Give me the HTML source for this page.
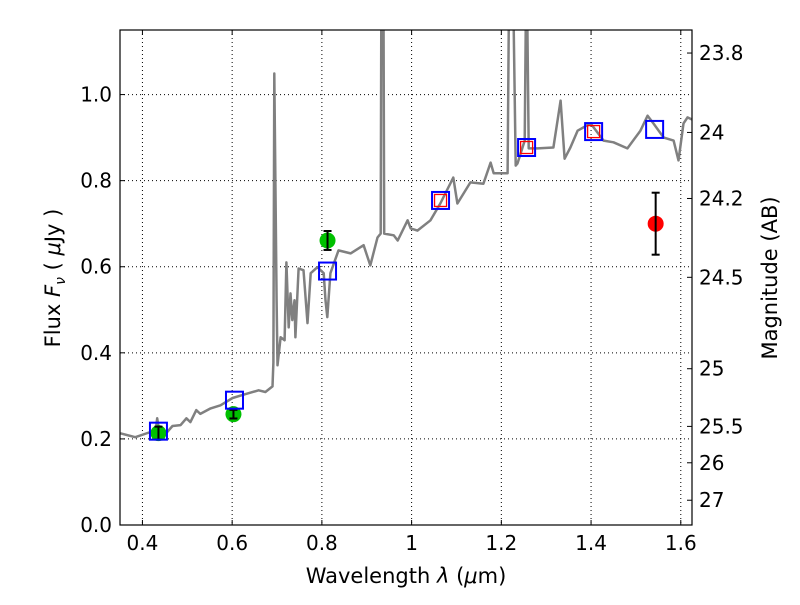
<!DOCTYPE html>
<html><head><meta charset="utf-8"><style>
body{margin:0;background:#fff}
svg{font-family:"DejaVu Sans","Liberation Sans",sans-serif}
</style></head><body>
<svg id="c" width="800" height="600" viewBox="0 0 800 600"></svg>
<script>
const specWave=[0.351,0.384,0.418,0.429,0.433,0.438,0.451,0.467,0.485,0.498,0.507,0.520,0.529,0.552,0.574,0.601,0.630,0.659,0.674,0.690,0.692,0.694,0.699,0.701,0.708,0.717,0.721,0.726,0.730,0.734,0.739,0.741,0.748,0.759,0.768,0.775,0.790,0.804,0.808,0.812,0.819,0.837,0.864,0.893,0.908,0.924,0.931,0.933,0.937,0.939,0.960,0.969,0.991,0.998,1.013,1.042,1.064,1.093,1.102,1.131,1.160,1.176,1.183,1.214,1.218,1.225,1.232,1.236,1.252,1.256,1.261,1.281,1.316,1.332,1.341,1.354,1.370,1.399,1.428,1.450,1.481,1.510,1.526,1.539,1.562,1.584,1.595,1.606,1.615,1.629];
const specFlux=[0.213,0.204,0.216,0.213,0.248,0.213,0.211,0.230,0.232,0.248,0.239,0.267,0.258,0.271,0.278,0.295,0.304,0.313,0.309,0.322,0.378,1.049,0.522,0.371,0.436,0.429,0.610,0.459,0.538,0.476,0.522,0.436,0.596,0.592,0.469,0.585,0.599,0.585,0.522,0.483,0.585,0.638,0.631,0.650,0.603,0.668,0.677,1.35,1.35,0.677,0.673,0.661,0.708,0.689,0.684,0.708,0.747,0.807,0.747,0.796,0.793,0.842,0.817,0.817,1.35,1.35,0.835,0.840,0.893,1.35,0.875,0.875,0.877,0.986,0.851,0.877,0.916,0.933,0.893,0.889,0.875,0.916,0.951,0.933,0.900,0.893,0.847,0.933,0.947,0.940];
const modelWave=[0.4357,0.6052,0.8126,1.0645,1.2563,1.4057,1.5417];
const modelFlux=[0.218,0.290,0.590,0.754,0.877,0.914,0.919];
const redSqWave=[1.0645,1.2563,1.4057];
const redSqFlux=[0.754,0.877,0.914];
const obsWave=[0.4357,0.6029,0.8126];
const obsFlux=[0.2135,0.2575,0.661];
const obsErr=[0.015,0.010,0.022];
const redWave=[1.544];
const redFlux=[0.70];
const redErr=[0.072];
const xTicks=[0.4,0.6,0.8,1.0,1.2,1.4,1.6];
const xTickLabels=["0.4","0.6","0.8","1","1.2","1.4","1.6"];
const yTicks=[0,0.2,0.4,0.6,0.8,1.0];
const yTickLabels=["0.0","0.2","0.4","0.6","0.8","1.0"];
const magTicks=[23.8,24,24.2,24.5,25,25.5,26,27];
const magTickLabels=["23.8","24","24.2","24.5","25","25.5","26","27"];

const L=120,R=692,T=30,B=525,x0=0.35,x1=1.625,y0=0,y1=1.15;
const X=v=>L+(v-x0)/(x1-x0)*(R-L);
const Y=v=>B-(v-y0)/(y1-y0)*(B-T);
const svg=document.getElementById('c');
const NS='http://www.w3.org/2000/svg';
function mk(tag,at,parent){const e=document.createElementNS(NS,tag);for(const k in at)e.setAttribute(k,at[k]);(parent||svg).appendChild(e);return e;}
const defs=mk('defs',{});
const cp=mk('clipPath',{id:'clip'},defs);mk('rect',{x:L,y:T,width:R-L,height:B-T},cp);

xTicks.forEach(t=>{const g=mk('line',{x1:X(t),x2:X(t),y1:T,y2:B,stroke:'#000','stroke-width':1,'stroke-dasharray':'1,3'});

});
yTicks.forEach(t=>{const g=mk('line',{x1:L,x2:R,y1:Y(t),y2:Y(t),stroke:'#000','stroke-width':1,'stroke-dasharray':'1,3'});

});

const plot=mk('g',{'clip-path':'url(#clip)'});


let d='';specWave.forEach((w,i)=>{d+=(i?'L':'M')+X(w).toFixed(1)+','+Y(specFlux[i]).toFixed(1);});
const sp=mk('path',{d:d,fill:'none',stroke:'#808080','stroke-width':2.5,'stroke-linejoin':'round'},plot);



function errPt(w,f,e,color,name){
  const g=mk('g',{},plot);
  
  
  const cx=X(w);
  mk('circle',{cx:cx,cy:Y(f),r:8,fill:color},g);
  mk('line',{x1:cx,x2:cx,y1:Y(f-e),y2:Y(f+e),stroke:'#000','stroke-width':2},g);
  mk('line',{x1:cx-4,x2:cx+4,y1:Y(f-e),y2:Y(f-e),stroke:'#000','stroke-width':2},g);
  mk('line',{x1:cx-4,x2:cx+4,y1:Y(f+e),y2:Y(f+e),stroke:'#000','stroke-width':2},g);
}
obsWave.forEach((w,i)=>errPt(w,obsFlux[i],obsErr[i],'#00c000','observed-point'));
redWave.forEach((w,i)=>errPt(w,redFlux[i],redErr[i],'#ff0000','red-observed-point'));
redSqWave.forEach((w,i)=>{const r=mk('rect',{x:X(w)-6,y:Y(redSqFlux[i])-6,width:12,height:12,fill:'none',stroke:'#ff0000','stroke-width':1.3},plot);

});
modelWave.forEach((w,i)=>{const r=mk('rect',{x:X(w)-8.5,y:Y(modelFlux[i])-8.5,width:17,height:17,fill:'none',stroke:'#0000ff','stroke-width':2},plot);

});

const fr=mk('rect',{x:L,y:T,width:R-L,height:B-T,fill:'none',stroke:'#000','stroke-width':1.2});



xTicks.forEach((t,i)=>{
  mk('line',{x1:X(t),x2:X(t),y1:B,y2:B-5,stroke:'#000'});mk('line',{x1:X(t),x2:X(t),y1:T,y2:T+5,stroke:'#000'});
  const tx=mk('text',{x:X(t),y:B+25,'font-size':20,'text-anchor':'middle'});tx.textContent=xTickLabels[i];
  
  
});
yTicks.forEach((t,i)=>{
  mk('line',{x1:L,x2:L+5,y1:Y(t),y2:Y(t),stroke:'#000'});
  const tx=mk('text',{x:L-8,y:Y(t)+7,'font-size':20,'text-anchor':'end'});tx.textContent=yTickLabels[i];
  
  
});
magTicks.forEach((m,i)=>{
  const f=Math.pow(10,(23.9-m)/2.5);const y=Y(f);
  mk('line',{x1:R,x2:R-5,y1:y,y2:y,stroke:'#000'});
  const tx=mk('text',{x:R+7,y:y+7,'font-size':20});tx.textContent=magTickLabels[i];
  
  
});
</script>
<svg width="800" height="600" style="position:absolute;left:0;top:0">
<text x="406" y="583" font-size="21" text-anchor="middle" font-family="DejaVu Sans,sans-serif">Wavelength  <tspan font-style="italic">λ</tspan> (<tspan font-style="italic">μ</tspan>m)</text>
<text transform="translate(60,278) rotate(-90)" font-size="21" text-anchor="middle" font-family="DejaVu Sans,sans-serif">Flux  <tspan font-style="italic">F</tspan><tspan font-style="italic" font-size="14" dy="5">ν</tspan><tspan dy="-5">  (  </tspan><tspan font-style="italic">μ</tspan>Jy )</text>
<text transform="translate(777,278) rotate(-90)" font-size="21" text-anchor="middle" font-family="DejaVu Sans,sans-serif">Magnitude (AB)</text>
</svg>
</body></html>
